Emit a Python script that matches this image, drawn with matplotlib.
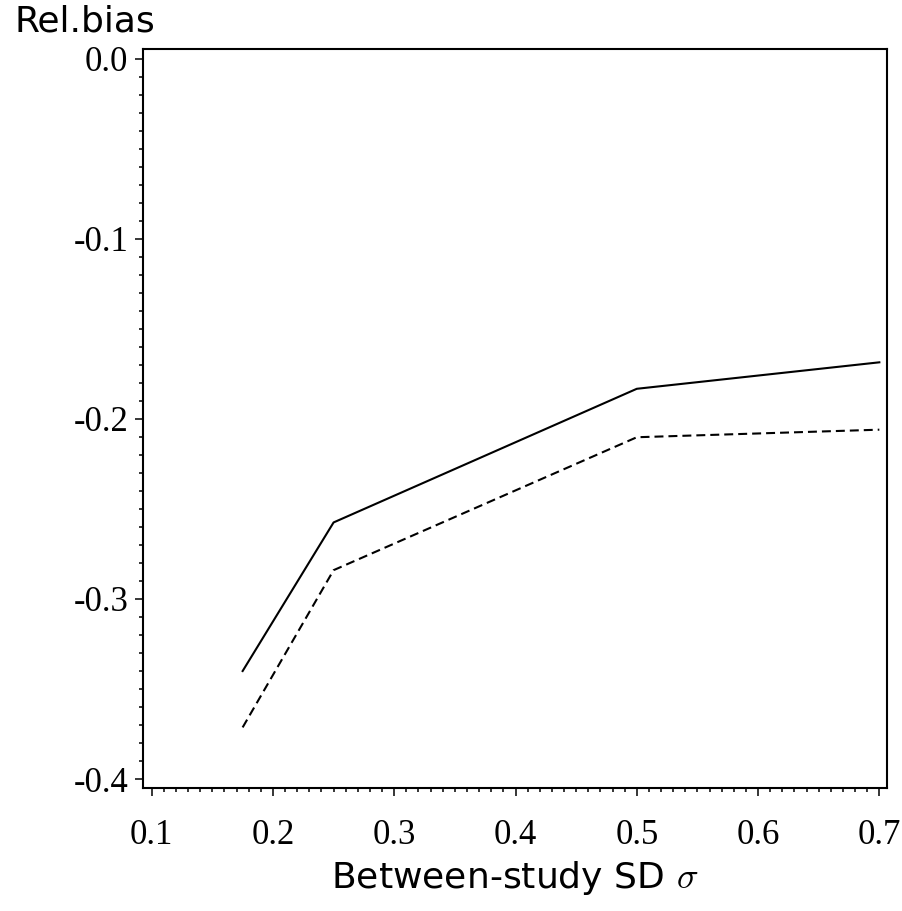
import matplotlib
matplotlib.use("Agg")
import matplotlib.pyplot as plt
from matplotlib.ticker import MultipleLocator, FormatStrFormatter

# ---------------------------------------------------------------------------
# Data
# ---------------------------------------------------------------------------
sigma = [0.175, 0.25, 0.5, 0.7]
bias_solid = [-0.340, -0.2575, -0.1833, -0.1686]
bias_dashed = [-0.3713, -0.284, -0.2102, -0.2060]

X_LIM = (0.0931, 0.7061)
Y_LIM = (-0.4048, 0.0055)

plt.rcParams["axes.unicode_minus"] = False
plt.rcParams["mathtext.fontset"] = "cm"

fig = plt.figure(figsize=(9.03, 9.11), dpi=100)
ax = fig.add_axes([0.1587, 0.1353, 0.8233, 0.8112])

ax.plot(sigma, bias_solid, color="black", lw=1.5)
ax.plot(sigma, bias_dashed, color="black", lw=1.5, dashes=(4.3, 2.4))

ax.set_xlim(*X_LIM)
ax.set_ylim(*Y_LIM)

ax.xaxis.set_major_locator(MultipleLocator(0.1))
ax.xaxis.set_minor_locator(MultipleLocator(0.01))
ax.yaxis.set_major_locator(MultipleLocator(0.1))
ax.yaxis.set_minor_locator(MultipleLocator(0.01))
ax.xaxis.set_major_formatter(FormatStrFormatter("%.1f"))
ax.yaxis.set_major_formatter(FormatStrFormatter("%.1f"))

for sp in ax.spines.values():
    sp.set_linewidth(1.5)

ax.tick_params(which="both", direction="out", width=1.1, top=False, right=False)
ax.tick_params(which="major", length=5.8)
ax.tick_params(which="minor", length=3.2)
ax.tick_params(axis="x", which="major", pad=17)
ax.tick_params(axis="y", which="major", pad=5)
for lbl in ax.get_xticklabels() + ax.get_yticklabels():
    lbl.set_fontfamily("Liberation Serif")
    lbl.set_fontsize(25)

# axis titles (sans, sigma in CM italic)
fig.text(15 / 903, 1 - 32 / 911, "Rel.bias", family="DejaVu Sans", fontsize=26,
         ha="left", va="baseline")
fig.text(515 / 903, 1 - 888 / 911, r"Between-study SD $\sigma$", family="DejaVu Sans",
         fontsize=26, ha="center", va="baseline")

fig.savefig("out.png", dpi=100)
